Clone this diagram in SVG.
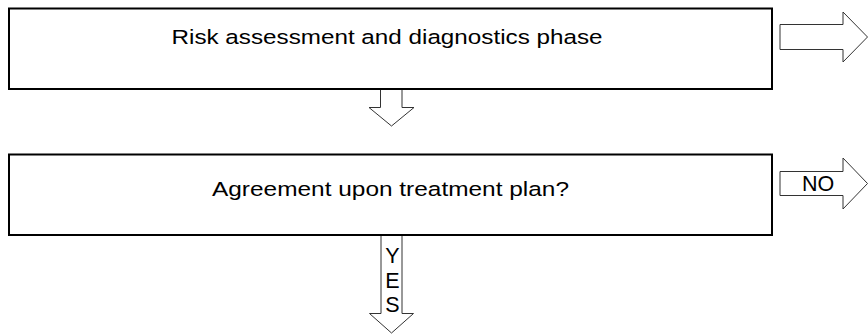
<svg xmlns="http://www.w3.org/2000/svg" width="868" height="334" viewBox="0 0 868 334">
<style>
.box{fill:#fff;stroke:#000;stroke-width:2}
.arr{fill:#fff;stroke:#333;stroke-width:1}
.t{font-family:"Liberation Sans",Arial,sans-serif;font-size:20.5px;fill:#000}
.l{font-family:"Liberation Sans",Arial,sans-serif;font-size:21.5px;fill:#000;text-anchor:middle}
</style>
<rect width="868" height="334" fill="#fff"/>
<g id="connectors">
<g id="arrow-right-1"><polygon class="arr" points="780,24.5 843,24.5 843,12 867.5,37 843,62 843,49.5 780,49.5"/></g>
<g id="arrow-down-1"><polygon class="arr" points="380.5,89 402,89 402,107.5 414,107.5 391.5,126 369,107.5 380.5,107.5"/></g>
<g id="arrow-no"><polygon class="arr" points="780,171.5 843,171.5 843,158 867.5,183.5 843,209 843,195.5 780,195.5"/>
<text class="l" x="818" y="191">NO</text></g>
<g id="arrow-yes"><polygon class="arr" points="381,235 402,235 402,313.5 413.5,313.5 391.5,333 369.5,313.5 381,313.5"/>
<text class="l" x="392.5" y="263">Y</text>
<text class="l" x="392.5" y="288">E</text>
<text class="l" x="392.5" y="312">S</text></g>
</g>
<g id="node-risk">
<rect class="box" x="9" y="8.5" width="763" height="80.5"/>
<text class="t" x="171.5" y="44" textLength="431" lengthAdjust="spacingAndGlyphs">Risk assessment and diagnostics phase</text>
</g>
<g id="node-agreement">
<rect class="box" x="9" y="154.5" width="763" height="80.5"/>
<text class="t" x="212" y="196" textLength="357" lengthAdjust="spacingAndGlyphs">Agreement upon treatment plan?</text>
</g>
</svg>
